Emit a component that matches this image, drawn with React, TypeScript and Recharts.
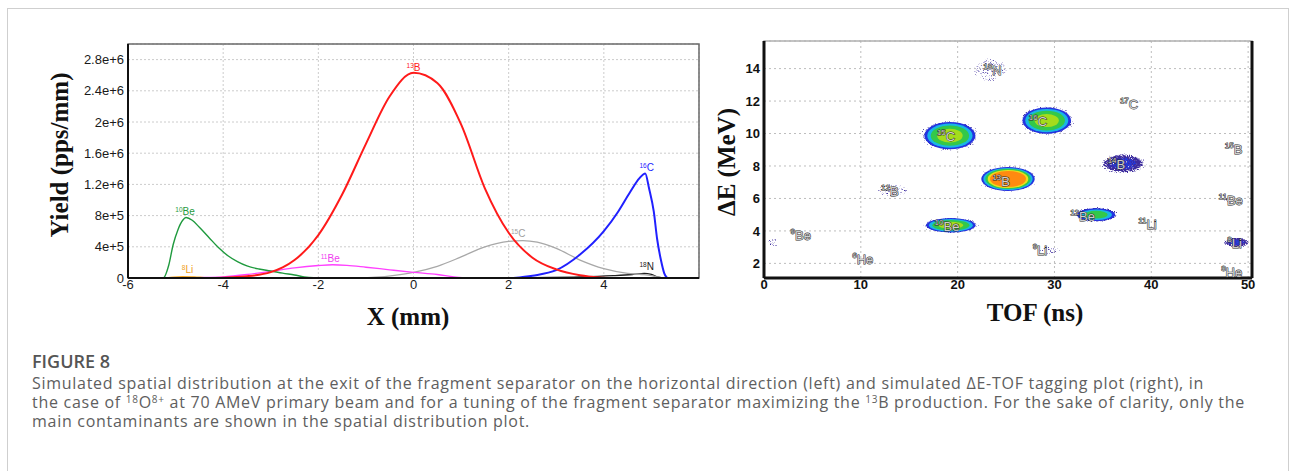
import React from "react";
import {
  ComposedChart, ScatterChart, Line, Scatter, XAxis, YAxis, CartesianGrid, ReferenceArea, ReferenceLine,
} from "recharts";

const SANS = "'Liberation Sans', Arial, sans-serif";
const SERIF = "'Liberation Serif', 'Times New Roman', serif";

// ── left plot: yield (pps/mm) vs X (mm) ──
const be10 = [[-5.35, 0], [-5.25, 5e3], [-5.15, 1.5e5], [-5.05, 4.3e5], [-4.95, 6.2e5], [-4.85, 7.4e5], [-4.78, 7.75e5], [-4.65, 7.4e5], [-4.5, 6.5e5], [-4.3, 5.2e5], [-4.1, 3.9e5], [-3.9, 2.85e5], [-3.7, 2.1e5], [-3.5, 1.55e5], [-3.25, 1.15e5], [-3.0, 0.9e5], [-2.75, 0.62e5], [-2.5, 0.38e5], [-2.3, 0.15e5], [-2.1, 0.03e5], [-1.9, 0]];
const li8 = [[-5.2, 0], [-5.05, 1.2e4], [-4.85, 1.8e4], [-4.6, 1.5e4], [-4.4, 0.5e4], [-4.2, 0]];
const be11 = [[-5.0, 0], [-4.5, 0.05e5], [-4.0, 0.15e5], [-3.5, 0.45e5], [-3.0, 0.85e5], [-2.5, 1.3e5], [-2.0, 1.6e5], [-1.7, 1.7e5], [-1.4, 1.62e5], [-1.0, 1.38e5], [-0.5, 1.05e5], [0, 0.73e5], [0.5, 0.45e5], [0.85, 0.15e5], [1.1, 0]];
const b13 = [[-4.3, 0], [-3.9, 0.08e5], [-3.5, 0.22e5], [-3.0, 0.75e5], [-2.75, 1.35e5], [-2.5, 2.3e5], [-2.0, 5.5e5], [-1.5, 1.07e6], [-1.0, 1.72e6], [-0.5, 2.33e6], [0, 2.63e6], [0.5, 2.5e6], [1.0, 1.97e6], [1.5, 1.15e6], [2.0, 5.8e5], [2.5, 2.6e5], [3.0, 1.1e5], [3.5, 0.35e5], [3.9, 0.08e5], [4.2, 0]];
const c15 = [[-1.2, 0], [-0.8, 0.1e5], [-0.4, 0.35e5], [0, 0.73e5], [0.5, 1.5e5], [1.0, 2.7e5], [1.5, 4.0e5], [2.0, 4.7e5], [2.3, 4.8e5], [2.6, 4.6e5], [3.0, 3.8e5], [3.5, 2.3e5], [4.0, 1.2e5], [4.5, 0.6e5], [4.8, 0.45e5], [5.0, 0.3e5], [5.2, 0]];
const c16 = [[2.1, 0], [2.5, 0.3e5], [3.0, 1.0e5], [3.5, 3.0e5], [4.0, 6.0e5], [4.3, 8.5e5], [4.55, 1.1e6], [4.75, 1.28e6], [4.87, 1.34e6], [4.95, 1.15e6], [5.05, 8.5e5], [5.12, 5.0e5], [5.2, 2.3e5], [5.27, 0.6e5], [5.33, 0]];
const n18 = [[-1, 0], [2, 0.05e5], [3.5, 0.15e5], [4.2, 0.3e5], [4.6, 0.45e5], [4.85, 0.6e5], [5.0, 0.45e5], [5.15, 0.1e5], [5.3, 0]];
const yieldTicks = [0, 4e5, 8e5, 1.2e6, 1.6e6, 2e6, 2.4e6, 2.8e6];
const xTicks = [-6, -4, -2, 0, 2, 4];
const curveTags = [
  { x: -4.8, y: 8.1e5, mass: "10", el: "Be", color: "#1f9a3e" },
  { x: -4.75, y: 0.6e5, mass: "8", el: "Li", color: "#f0a020" },
  { x: -1.75, y: 2.1e5, mass: "11", el: "Be", color: "#f03cf0" },
  { x: 0.0, y: 2.66e6, mass: "13", el: "B", color: "#ff2020" },
  { x: 2.2, y: 5.25e5, mass: "15", el: "C", color: "#a0a0a0" },
  { x: 4.9, y: 1.37e6, mass: "16", el: "C", color: "#2424ff" },
  { x: 4.9, y: 1.03e5, mass: "18", el: "N", color: "#222" },
];

// ── right plot: ΔE (MeV) vs TOF (ns) clusters ──
// tof, de = centre; w, h = half extent; level = peak intensity step
const clusters = [
  { tof: 23.4, de: 13.9, w: 2.1, h: 0.85, level: 0 },
  { tof: 19.2, de: 9.87, w: 3.0, h: 0.95, level: 3 },
  { tof: 29.2, de: 10.8, w: 2.85, h: 0.92, level: 3 },
  { tof: 25.2, de: 7.2, w: 3.0, h: 0.8, level: 4 },
  { tof: 13.3, de: 6.5, w: 1.9, h: 0.45, level: 0 },
  { tof: 37.1, de: 8.15, w: 2.4, h: 0.62, level: 1 },
  { tof: 19.3, de: 4.35, w: 2.9, h: 0.5, level: 3 },
  { tof: 34.3, de: 5.0, w: 2.4, h: 0.48, level: 2 },
  { tof: 29.4, de: 2.8, w: 1.5, h: 0.25, level: 0 },
  { tof: 1.0, de: 3.3, w: 0.7, h: 0.3, level: 0 },
  { tof: 48.8, de: 3.3, w: 1.4, h: 0.32, level: 1 },
  { tof: 48.3, de: 5.9, w: 1.2, h: 0.28, level: 0 },
];
const isoTags = [
  { tof: 23.6, de: 13.9, mass: "18", el: "N" },
  { tof: 37.7, de: 11.8, mass: "17", el: "C" },
  { tof: 28.3, de: 10.75, mass: "16", el: "C" },
  { tof: 18.8, de: 9.85, mass: "15", el: "C" },
  { tof: 48.5, de: 9.05, mass: "15", el: "B" },
  { tof: 36.4, de: 8.15, mass: "14", el: "B" },
  { tof: 24.5, de: 7.05, mass: "13", el: "B" },
  { tof: 13.0, de: 6.45, mass: "12", el: "B" },
  { tof: 48.2, de: 5.9, mass: "11", el: "Be" },
  { tof: 32.9, de: 4.95, mass: "12", el: "Be" },
  { tof: 18.9, de: 4.3, mass: "10", el: "Be" },
  { tof: 39.6, de: 4.4, mass: "11", el: "Li" },
  { tof: 3.8, de: 3.75, mass: "9", el: "Be" },
  { tof: 48.6, de: 3.25, mass: "8", el: "Li" },
  { tof: 28.5, de: 2.8, mass: "9", el: "Li" },
  { tof: 10.2, de: 2.25, mass: "6", el: "He" },
  { tof: 48.3, de: 1.45, mass: "8", el: "He" },
];
const tofTicks = [0, 10, 20, 30, 40, 50];
const deTicks = [2, 4, 6, 8, 10, 12, 14];

const pts = (a: number[][]) => a.map(([x, y]) => ({ x, y }));
const fmtYield = (v: number) => (v === 0 ? "0" : v >= 1e6 ? `${+(v / 1e6).toFixed(1)}e+6` : `${+(v / 1e5).toFixed(1)}e+5`);

// right chart geometry
const R = { w: 580, h: 340, top: 41, right: 28, left: 24, bottom: 32, yw: 40, xh: 30 };
const TOF_MAX = 50.4, DE_MIN = 1.1, DE_MAX = 15.7;
const PX_TOF = (R.w - R.left - R.right - R.yw) / TOF_MAX;
const PX_DE = (R.h - R.top - R.bottom - R.xh) / (DE_MAX - DE_MIN);

// solid colour steps inside each cluster, as fractions of its size
const RINGS: [number, string][][] = [
  [],
  [],
  [[0.82, "#2433e0"], [0.68, "#18b6e4"], [0.5, "#33c84a"]],
  [[0.88, "#2433e0"], [0.78, "#18b6e4"], [0.66, "#33c84a"], [0.44, "#a4dc1c"]],
  [[0.92, "#2433e0"], [0.85, "#18b6e4"], [0.78, "#33c84a"], [0.7, "#e8e01a"], [0.62, "#ff8a10"]],
];
const BLUE_SPECKLE = [0, 0.85, 1.0, 1.03, 1.05];

const Blob = (p: any) => {
  const { cx, cy, payload } = p;
  const rx = payload.w * PX_TOF, ry = payload.h * PX_DE;
  const lv = payload.level;
  return (
    <g>
      <ellipse cx={cx} cy={cy} rx={rx * 1.3} ry={ry * 1.3} fill="url(#halo)" fillOpacity={lv === 0 ? 0.62 : 0.95} filter="url(#speckle)" />
      {lv > 0 && (
        <ellipse cx={cx} cy={cy} rx={rx * BLUE_SPECKLE[lv]} ry={ry * BLUE_SPECKLE[lv]} fill="url(#halo)" fillOpacity={lv === 1 ? 0.85 : 1} filter="url(#speckleBlue)" />
      )}
      {RINGS[lv].map(([f, c], i) => (
        <ellipse key={i} cx={cx} cy={cy} rx={rx * f} ry={ry * f} fill={c} />
      ))}
    </g>
  );
};

const IsoTag = (p: any) => (
  <text x={p.cx} y={p.cy} textAnchor="middle" dominantBaseline="central" fontFamily={SANS} fontSize={13}
    fill="#cfcfcf" stroke="#2a2a2a" strokeWidth={0.9} paintOrder="stroke">
    <tspan fontSize={8} dy={-4}>{p.payload.mass}</tspan>
    <tspan dy={4}>{p.payload.el}</tspan>
  </text>
);

const CurveTag = (p: any) => (
  <text x={p.cx} y={p.cy} textAnchor="middle" fontFamily={SANS} fontSize={10} fill={p.payload.color}>
    <tspan fontSize={6.5} dy={-3}>{p.payload.mass}</tspan>
    <tspan dy={3}>{p.payload.el}</tspan>
  </text>
);

const speckle = (id: string, color: string) => (
  <filter id={id} x="-10%" y="-10%" width="120%" height="120%" colorInterpolationFilters="sRGB">
    <feTurbulence type="fractalNoise" baseFrequency="0.95" numOctaves={2} seed={id.length * 5} result="noise" />
    <feColorMatrix in="noise" type="matrix" values="0 0 0 0 0  0 0 0 0 0  0 0 0 0 0  1 0 0 0 0" result="n" />
    <feComposite in="SourceAlpha" in2="n" operator="arithmetic" k1={0} k2={0.5} k3={0.5} k4={0} result="sum" />
    <feComponentTransfer in="sum" result="dots">
      <feFuncA type="linear" slope={9} intercept={-5.3} />
    </feComponentTransfer>
    <feFlood floodColor={color} />
    <feComposite in2="dots" operator="in" />
  </filter>
);

const tickL = { fontFamily: SANS, fontSize: 13, fill: "#1a1a1a" };
const tickR = { fontFamily: SANS, fontSize: 13, fill: "#111", fontWeight: 700 };
const title: React.CSSProperties = { position: "absolute", fontFamily: SERIF, fontWeight: 700, fontSize: 25, color: "#111", whiteSpace: "nowrap" };
const cap: React.CSSProperties = { position: "absolute", left: 32, fontFamily: "'Open Sans', Lato, sans-serif", fontSize: 16, letterSpacing: 0.72, color: "#5e5e5e", whiteSpace: "nowrap", lineHeight: "19px" };
const sup: React.CSSProperties = { fontSize: 10, position: "relative", top: -5, lineHeight: 0 };

export default function App() {
  return (
    <div style={{ position: "absolute", left: 0, top: 0, width: 1293, height: 471, background: "#fff", overflow: "hidden" }}>
      <div style={{ position: "absolute", left: 7, top: 8, width: 1280, height: 480, border: "1px solid #cfcfcf" }} />

      {/* spatial distribution */}
      <div style={{ position: "absolute", left: 0, top: 0 }}>
        <ComposedChart width={720} height={340} margin={{ top: 44, right: 21, left: 68, bottom: 32 }}>
          <CartesianGrid stroke="#cccccc" strokeDasharray="2 2" />
          <ReferenceArea x1={-6} x2={6} y1={0} y2={3e6} fill="none" stroke="#6a6a6a" strokeWidth={1.5} />
          <XAxis type="number" dataKey="x" domain={[-6, 6]} ticks={xTicks} allowDataOverflow height={30}
            tick={tickL} tickLine={false} tickSize={2} tickMargin={0} axisLine={{ stroke: "#111", strokeWidth: 2 }} />
          <YAxis type="number" dataKey="y" domain={[0, 3e6]} ticks={yieldTicks} allowDataOverflow width={60}
            tick={tickL} tickLine={false} tickSize={4} tickMargin={0} tickFormatter={fmtYield} axisLine={{ stroke: "#111", strokeWidth: 2 }} />
          <Line data={pts(li8)} dataKey="y" type="monotone" stroke="#f5a623" strokeWidth={1.3} dot={false} isAnimationActive={false} />
          <Line data={pts(n18)} dataKey="y" type="monotone" stroke="#222" strokeWidth={1.3} dot={false} isAnimationActive={false} />
          <Line data={pts(c15)} dataKey="y" type="monotone" stroke="#a8a8a8" strokeWidth={1.3} dot={false} isAnimationActive={false} />
          <Line data={pts(be11)} dataKey="y" type="monotone" stroke="#ff40ff" strokeWidth={1.3} dot={false} isAnimationActive={false} />
          <Line data={pts(be10)} dataKey="y" type="monotone" stroke="#1f9a3e" strokeWidth={1.4} dot={false} isAnimationActive={false} />
          <Line data={pts(c16)} dataKey="y" type="monotone" stroke="#2020ff" strokeWidth={2} dot={false} isAnimationActive={false} />
          <Line data={pts(b13)} dataKey="y" type="monotone" stroke="#ff1a1a" strokeWidth={2} dot={false} isAnimationActive={false} />
          <Scatter data={curveTags} dataKey="y" shape={CurveTag} isAnimationActive={false} />
        </ComposedChart>
      </div>
      <div style={{ ...title, left: 60, top: 155, transform: "translate(-50%, -50%) rotate(-90deg)" }}>Yield (pps/mm)</div>
      <div style={{ ...title, left: 408, top: 317, transform: "translate(-50%, -50%)" }}>X (mm)</div>

      {/* ΔE-TOF */}
      <div style={{ position: "absolute", left: 700, top: 0 }}>
        <svg width={0} height={0} style={{ position: "absolute" }}>
          <defs>
            <radialGradient id="halo">
              <stop offset="0%" stopColor="#000" stopOpacity={1} />
              <stop offset="55%" stopColor="#000" stopOpacity={1} />
              <stop offset="100%" stopColor="#000" stopOpacity={0} />
            </radialGradient>
            {speckle("speckle", "#3d2c9e")}
            {speckle("speckleBlue", "#2438d8")}
          </defs>
        </svg>
        <ScatterChart width={R.w} height={R.h} margin={{ top: R.top, right: R.right, left: R.left, bottom: R.bottom }}>
          <CartesianGrid stroke="#bdbdbd" strokeDasharray="2 3" />
          <ReferenceArea x1={0} x2={TOF_MAX} y1={DE_MIN} y2={DE_MAX} fill="none" stroke="#b0b0b0" strokeWidth={1.5} />
          <XAxis type="number" dataKey="tof" domain={[0, TOF_MAX]} ticks={tofTicks} allowDataOverflow height={R.xh}
            tick={tickR} tickLine={false} tickSize={2} tickMargin={0} axisLine={{ stroke: "#111", strokeWidth: 3 }} />
          <YAxis type="number" dataKey="de" domain={[DE_MIN, DE_MAX]} ticks={deTicks} allowDataOverflow width={R.yw}
            tick={tickR} tickLine={false} tickSize={4} tickMargin={0} axisLine={{ stroke: "#111", strokeWidth: 3 }} />
          <ReferenceLine x={TOF_MAX} stroke="#111" strokeWidth={3} />
          <Scatter data={clusters} shape={Blob} isAnimationActive={false} />
          <Scatter data={isoTags} shape={IsoTag} isAnimationActive={false} />
        </ScatterChart>
      </div>
      <div style={{ ...title, left: 727, top: 162, transform: "translate(-50%, -50%) rotate(-90deg)" }}>ΔE (MeV)</div>
      <div style={{ ...title, left: 1035, top: 313, transform: "translate(-50%, -50%)" }}>TOF (ns)</div>

      {/* caption */}
      <div style={{ ...cap, top: 352, fontSize: 18, color: "#555", fontWeight: 600, letterSpacing: 0 }}>FIGURE 8</div>
      <div style={{ ...cap, top: 374 }}>
        Simulated spatial distribution at the exit of the fragment separator on the horizontal direction (left) and simulated ΔE-TOF tagging plot (right), in
      </div>
      <div style={{ ...cap, top: 393 }}>
        the case of <span style={sup}>18</span>O<span style={sup}>8+</span> at 70 AMeV primary beam and for a tuning of the fragment separator maximizing the <span style={sup}>13</span>B production. For the sake of clarity, only the
      </div>
      <div style={{ ...cap, top: 412 }}>main contaminants are shown in the spatial distribution plot.</div>
    </div>
  );
}
